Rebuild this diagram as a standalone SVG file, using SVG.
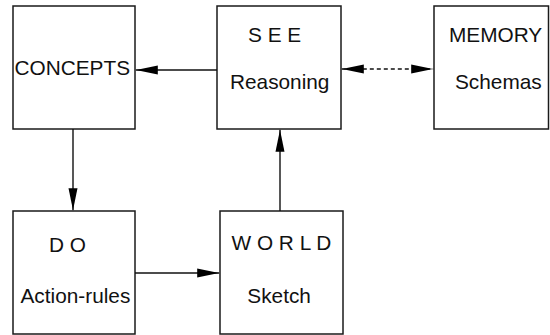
<svg xmlns="http://www.w3.org/2000/svg" width="550" height="335" viewBox="0 0 550 335">
  <style>
    .box { fill: #ffffff; stroke: #1a1a1a; stroke-width: 1.5; }
    .lbl { font-family: "Liberation Sans", Arial, sans-serif; font-size: 20.8px; fill: #111111; }
    .edge { fill: none; stroke: #111111; stroke-width: 1.4; }
    .dash { stroke-dasharray: 4 3; }
  </style>
  <defs>
    <marker id="head" markerUnits="userSpaceOnUse" markerWidth="22" markerHeight="10" refX="22" refY="5" orient="auto-start-reverse">
      <path d="M0,0.5 L22,5 L0,9.5 Z" fill="#000000"/>
    </marker>
  </defs>
  <rect width="550" height="335" fill="#ffffff"/>

  <g id="concepts">
    <rect class="box" x="13" y="6" width="122" height="123"/>
    <text class="lbl" x="14.5" y="74.5">CONCEPTS</text>
  </g>
  <g id="see">
    <rect class="box" x="217" y="6" width="124" height="123"/>
    <text class="lbl" x="248" y="42">S E E</text>
    <text class="lbl" x="230" y="88.5">Reasoning</text>
  </g>
  <g id="memory">
    <rect class="box" x="434" y="6" width="114.5" height="123"/>
    <text class="lbl" x="449" y="42">MEMORY</text>
    <text class="lbl" x="455" y="89">Schemas</text>
  </g>
  <g id="do">
    <rect class="box" x="13" y="211" width="122" height="123"/>
    <text class="lbl" x="49" y="252">D O</text>
    <text class="lbl" x="20.5" y="303">Action-rules</text>
  </g>
  <g id="world">
    <rect class="box" x="220" y="211" width="123" height="123"/>
    <text class="lbl" x="231.5" y="250">W O R L D</text>
    <text class="lbl" x="247.3" y="302.7">Sketch</text>
  </g>

  <g id="connectors">
    <line class="edge" x1="217" y1="70" x2="135.8" y2="70" marker-end="url(#head)"/>
    <line class="edge dash" x1="341.8" y1="69" x2="433.2" y2="69" marker-start="url(#head)" marker-end="url(#head)"/>
    <line class="edge" x1="73" y1="129" x2="73" y2="210.2" marker-end="url(#head)"/>
    <line class="edge" x1="135" y1="273" x2="219.2" y2="273" marker-end="url(#head)"/>
    <line class="edge" x1="280" y1="211" x2="280" y2="129.8" marker-end="url(#head)"/>
  </g>
</svg>
